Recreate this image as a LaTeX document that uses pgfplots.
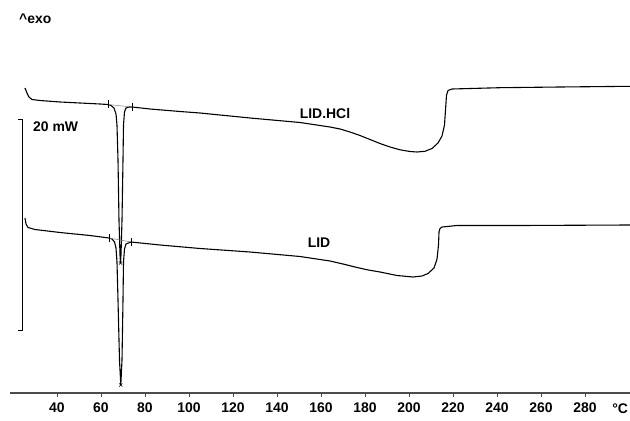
\documentclass[border=0pt]{standalone}
\usepackage{fontspec}
\setmainfont{Liberation Sans}
\usepackage{pgfplots}
\pgfplotsset{compat=1.18}
\newcommand{\lbl}{\bfseries\fontsize{14}{16}\selectfont}
\begin{document}
\begin{tikzpicture}
\begin{axis}[
  scale only axis, width=620bp, height=393bp,
  xmin=18.64, xmax=300.45, ymin=-393, ymax=0,
  axis x line=bottom, axis y line=none,
  axis line style={line width=1.3pt, draw=black!70, -},
  xtick={40,60,...,280},
  tick align=outside, major tick length=4bp,
  tick style={line width=0.8pt, black!70},
  xticklabel style={font=\lbl, yshift=-2bp},
  /pgf/number format/assume math mode=true,
  clip=false,
]
\coordinate (SW) at (rel axis cs:0,0);
% LID.HCl
\addplot[black, line width=1.1pt, mark=none] coordinates {
(25.45,-88) (26.36,-93) (27.27,-97) (28.64,-99.5) (32.27,-100.5) (41.36,-102)
(50.45,-103) (59.55,-104) (63.18,-104.5) (64.55,-105.5) (65.91,-108) (66.82,-114)
(67.27,-125) (67.73,-160) (68.18,-220) (68.64,-255) (68.86,-263) (69.09,-255)
(69.55,-220) (70.0,-160) (70.23,-125) (70.68,-112) (71.36,-108) (72.73,-107)
(74.09,-107) (82.27,-109) (95.91,-111.5) (105.0,-113) (127.73,-118) (150.45,-122.5)
(164.09,-127) (168.64,-129) (173.18,-132) (177.73,-135.5) (182.27,-139.5) (186.82,-143.5)
(191.36,-147) (195.91,-149.8) (200.45,-151.5) (203.64,-152) (207.27,-151.3) (210.45,-148.5)
(213.18,-143) (215.0,-136) (216.14,-125)
(216.59,-110) (217.05,-95) (217.73,-90.5) (219.55,-89) (241.36,-87.7) (268.64,-87)
(300.45,-86.3)
};
% LID
\addplot[black, line width=1.1pt, mark=none] coordinates {
(25.45,-218) (25.91,-224) (26.82,-227.5) (30.0,-229.5) (41.36,-232.5) (55.0,-235.5)
(63.64,-238) (65.0,-239) (66.14,-242) (66.82,-248) (67.27,-262) (67.73,-300)
(68.41,-360) (69.0,-385) (69.55,-360) (70.0,-300) (70.23,-262) (70.68,-249)
(71.36,-244) (73.64,-242) (86.82,-245) (105.0,-248.5) (127.73,-252) (150.45,-256.5)
(164.09,-261) (170.0,-264) (175.45,-267) (181.0,-269.8) (186.82,-272) (194.55,-275.5) (201.82,-277) (205.91,-276)
(208.64,-273.5) (211.36,-268) (212.73,-259) (213.41,-245) (213.64,-232) (214.09,-228.5)
(215.0,-227) (221.82,-225.5) (250.45,-225.5) (300.45,-225)
};
% integration baselines
\addplot[gray, line width=0.5pt, mark=none] coordinates {(63.18,-104.5) (74.09,-107)};
\addplot[gray, line width=0.5pt, mark=none] coordinates {(63.64,-238) (73.64,-242)};
% onset / endset markers
\addplot[only marks, black, mark=|, mark size=4bp, mark options={line width=0.8pt}] coordinates {
(63.18,-104.5) (74.09,-107) (63.64,-238) (73.64,-242)};
% peak markers
\addplot[only marks, black, mark=x, mark size=2.2bp, mark options={line width=0.6pt}] coordinates {
(68.86,-263) (69.0,-385)};
% scale bar
\addplot[black, line width=1pt, mark=none] coordinates {(22.27,-119) (24.1,-119) (24.1,-330) (22.27,-330)};
\node[anchor=west, font=\lbl, inner sep=0pt] at (axis cs:29.1,-127) {20 mW};
\node[anchor=west, font=\lbl, inner sep=0pt] at (axis cs:22.7,-19) {\textasciicircum exo};
\node[font=\lbl, inner sep=0pt] at (axis cs:161.8,-114) {LID.HCl};
\node[font=\lbl, inner sep=0pt] at (axis cs:159.1,-243) {LID};
\node[anchor=west, font=\lbl, inner sep=0pt] at (axis cs:292.3,-409) {°C};
\end{axis}
\pgfresetboundingbox
\path (SW) ++(-10bp,-28bp) rectangle ++(630bp,421bp);
\end{tikzpicture}
\end{document}
